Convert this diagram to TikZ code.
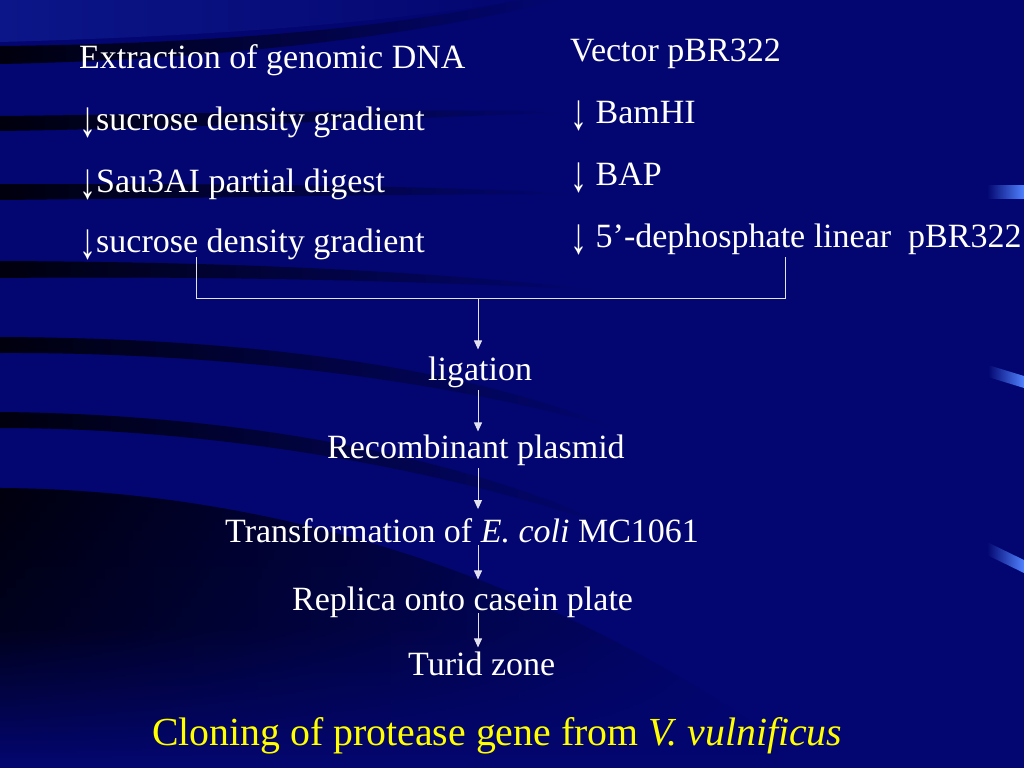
\documentclass[tikz,border=0pt]{standalone}
\usepackage{fontspec}
\usepackage{graphicx}
\setmainfont{Liberation Serif}
\usetikzlibrary{arrows.meta,calc,fadings}
\definecolor{bg}{RGB}{3,6,112}
\definecolor{bgl}{RGB}{12,22,136}
\definecolor{band}{RGB}{0,0,14}
\definecolor{stub}{RGB}{80,130,255}
\definecolor{ttl}{RGB}{255,255,0}
\definecolor{ln}{RGB}{225,225,240}
\tikzfading[name=fadeR, left color=transparent!0, right color=transparent!100]
\newcommand{\dnarrow}{\raisebox{-0.2em}{\scalebox{1}[1.5]{↓}}}
\begin{document}
\begin{tikzpicture}[x=1pt,y=-1pt,
  txt/.style={text=white,font=\fontsize{34}{40}\selectfont,inner sep=0pt,anchor=base west},
  title/.style={text=ttl,font=\fontsize{39.8}{46}\selectfont,inner sep=0pt,anchor=base west},
  conn/.style={draw=ln,line width=1pt},
  arr/.style={draw=ln,line width=1pt,-{Triangle[length=9pt,width=8pt]}},
  bandfill/.style={left color=band,right color=bg,shading angle=90}]
% background
\fill[bg] (0,0) rectangle (1024,768);
\useasboundingbox (0,0) rectangle (1024,768);
\shade[left color=bgl,right color=bg] (0,0) -- (520,0) .. controls (400,20) and (250,35) .. (0,42) -- cycle;
\shade[bandfill] (0,46) .. controls (200,44) and (380,30) .. (520,0) -- (560,0) .. controls (400,40) and (200,60) .. (0,64) -- cycle;
\shade[bandfill] (0,116) .. controls (200,114) and (400,108) .. (580,112) .. controls (400,118) and (200,128) .. (0,131) -- cycle;
\shade[bandfill] (0,184) .. controls (200,184) and (400,184) .. (580,194) .. controls (400,194) and (200,198) .. (0,200) -- cycle;
\shade[bandfill] (0,261) .. controls (200,262) and (400,268) .. (600,290) .. controls (400,280) and (200,276) .. (0,278) -- cycle;
\shade[bandfill] (0,337) .. controls (220,338) and (450,360) .. (620,430) .. controls (450,380) and (220,352) .. (0,353) -- cycle;
\shade[bandfill] (0,412) .. controls (220,414) and (450,450) .. (620,530) .. controls (450,470) and (220,428) .. (0,428) -- cycle;
\shade[top color=band,bottom color=bg,middle color=band!85!bg,path fading=fadeR]
  (0,488) .. controls (250,490) and (520,560) .. (780,740) -- (780,768) -- (0,768) -- cycle;
% right-edge stubs
\shade[left color=bg,right color=stub] (987,185) -- (1024,185) -- (1024,198) -- (987,198) -- cycle;
\shade[left color=bg,right color=stub] (988,365) -- (1024,376) -- (1024,388) -- (988,377) -- cycle;
\shade[left color=bg,right color=stub] (987,542) -- (1024,560) -- (1024,573) -- (987,555) -- cycle;
% left column
\node[txt] (ext) at (79,68) {Extraction of genomic DNA};
\node[txt] (sdg1) at (79,130) {\dnarrow sucrose density gradient};
\node[txt] (sau) at (79,192) {\dnarrow Sau3AI partial digest};
\node[txt] (sdg2) at (79,252) {\dnarrow sucrose density gradient};
% right column
\node[txt] (vec) at (570,62) {Vector pBR322};
\node[txt] (bam) at (570,123) {\dnarrow\ BamHI};
\node[txt] (bap) at (570,185) {\dnarrow\ BAP};
\node[txt] (dep) at (570,247) {\dnarrow\ 5’-dephosphate linear\ \ pBR322};
% flow
\node[txt] (lig) at (428,380) {ligation};
\node[txt] (rec) at (327,458) {Recombinant plasmid};
\node[txt] (trf) at (225,542) {Transformation of \textit{E. coli} MC1061};
\node[txt] (rep) at (292,610) {Replica onto casein plate};
\node[txt] (tur) at (408,675) {Turid zone};
\node[title] (ttl) at (152,745) {Cloning of protease gene from \textit{V. vulnificus}};
% bracket
\coordinate (bl) at (196,298);
\coordinate (br) at (785,298);
\coordinate (stem) at (478,298);
\draw[conn] (sdg2.base -| bl) ++(0,5) -- (bl) -- (br) -- ($(dep.base -| br)+(0,10)$);
\draw[arr,shorten >=6.8pt] (stem) -- (lig.north -| stem);
\draw[arr,shorten <=2.6pt,shorten >=2.8pt] (lig.south -| stem) -- (rec.north -| stem);
\draw[arr,shorten <=2.6pt,shorten >=8.8pt] (rec.south -| stem) -- (trf.north -| stem);
\draw[arr,shorten <=3pt,shorten >=6.8pt] (trf.base -| stem) -- (rep.north -| stem);
\draw[arr,shorten <=3pt,shorten >=3.8pt] (rep.base -| stem) -- (tur.north -| stem);
\end{tikzpicture}
\end{document}
